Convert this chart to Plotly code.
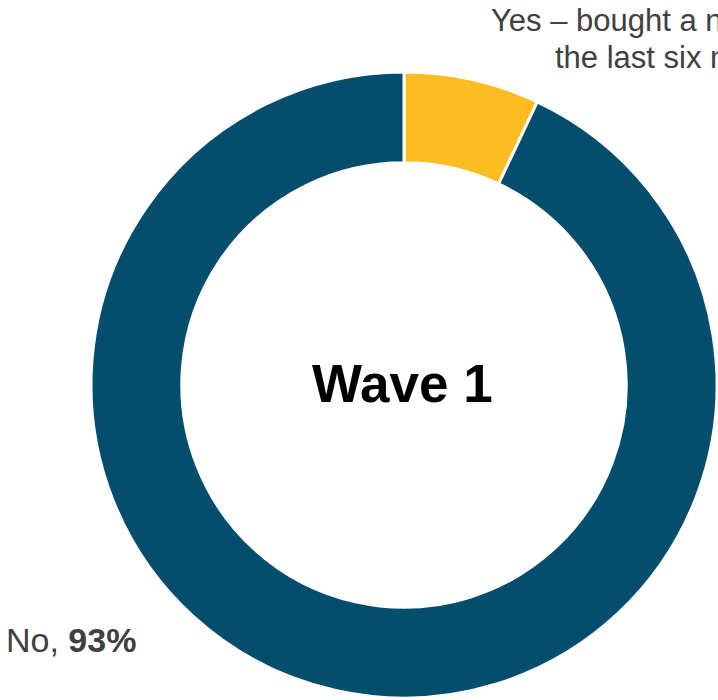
import plotly.graph_objects as go

# Survey answers and their shares (%)
categories = ["Yes – bought a new car in the last six months", "No"]
values = [7, 93]
colors = ["#fdbc1f", "#034d6e"]
center_title = "Wave 1"

W, H = 718, 700
cx, cy, R = 404, 385, 313  # donut centre and outer radius, in pixels

fig = go.Figure(
    go.Pie(
        labels=categories,
        values=values,
        hole=0.71,
        sort=False,
        direction="clockwise",
        rotation=0,
        marker=dict(colors=colors, line=dict(color="white", width=3)),
        textinfo="none",
        hoverinfo="label+percent",
        domain=dict(
            x=[(cx - R) / W, (cx + R) / W],
            y=[(H - cy - R) / H, (H - cy + R) / H],
        ),
    )
)

label_font = dict(family="Liberation Sans, Arial, sans-serif", size=31, color="#404040")


def px(x, y):
    return x / W, 1 - y / H


annotations = []
# centre title
x0, y0 = px(cx - 2, cy - 2)
annotations.append(dict(
    x=x0, y=y0, xref="paper", yref="paper", text=f"<b>{center_title}</b>",
    showarrow=False, xanchor="center", yanchor="middle",
    font=dict(family="Liberation Sans, Arial, sans-serif", size=53, color="black"),
))
# "Yes" label, two lines
x1, y1 = px(489, 20)
annotations.append(dict(
    x=x1, y=y1, xref="paper", yref="paper",
    text="Yes – bought a new car in",
    showarrow=False, xanchor="left", yanchor="middle", font=label_font,
))
x2, y2 = px(553, 58)
annotations.append(dict(
    x=x2, y=y2, xref="paper", yref="paper",
    text=f"the last six months, <b>{values[0]}%</b>",
    showarrow=False, xanchor="left", yanchor="middle", font=label_font,
))
# "No" label
x3, y3 = px(4, 640)
annotations.append(dict(
    x=x3, y=y3, xref="paper", yref="paper",
    text=f"{categories[1]}, <b>{values[1]}%</b>",
    showarrow=False, xanchor="left", yanchor="middle",
    font=dict(family="Liberation Sans, Arial, sans-serif", size=34, color="#404040"),
))

fig.update_layout(
    width=W, height=H,
    margin=dict(l=0, r=0, t=0, b=0),
    paper_bgcolor="white", plot_bgcolor="white",
    showlegend=False,
    annotations=annotations,
)

fig.write_html("out.html", config={"displayModeBar": False})
